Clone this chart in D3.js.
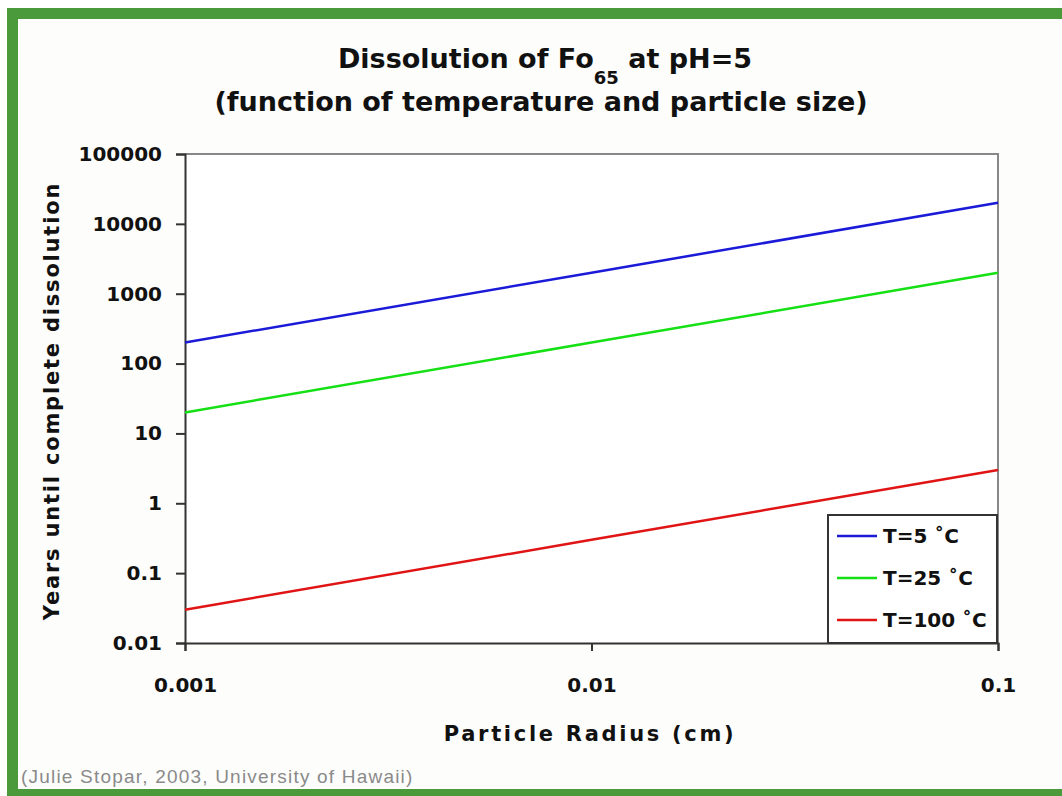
<!DOCTYPE html>
<html>
<head>
<meta charset="utf-8">
<script src="https://cdn.jsdelivr.net/npm/d3@7.9.0/dist/d3.min.js"></script>
<style>
  html, body { margin: 0; padding: 0; background: #fff; }
  svg { display: block; }
  .tick text { font-family: "DejaVu Sans", sans-serif; font-weight: bold; font-size: 20px; fill: #111; }
</style>
</head>
<body>
<svg id="chart" width="1062" height="796"></svg>
<script>
// data
const radii = [0.001, 0.01, 0.1];
const years5 = [200, 2000, 20000];
const years25 = [20, 200, 2000];
const years100 = [0.03, 0.3, 3];
const seriesNames = ['T=5 \u02daC', 'T=25 \u02daC', 'T=100 \u02daC'];
const seriesColors = ['#1a1ad8', '#14e014', '#e01414'];
const yTicks = [0.01, 0.1, 1, 10, 100, 1000, 10000, 100000];
const xTicks = [0.001, 0.01, 0.1];

const series = [years5, years25, years100].map((vals, i) => ({
    name: seriesNames[i],
    color: seriesColors[i],
    points: radii.map((r, j) => ({ x: r, y: vals[j] }))
}));

const svg = d3.select('#chart');

// green frame
svg.append('rect').attr('x', 0).attr('y', 0).attr('width', 1062).attr('height', 796).attr('fill', '#fff');
svg.append('rect').attr('x', 12.5).attr('y', 13.5).attr('width', 1070).attr('height', 781)
   .attr('fill', '#fdfdfb').attr('stroke', '#4a9a3c').attr('stroke-width', 11);

const plotL = 185, plotR = 998, plotT = 154, plotB = 643;
const x = d3.scaleLog().domain([0.001, 0.1]).range([plotL, plotR]);
const y = d3.scaleLog().domain([0.01, 100000]).range([plotB, plotT]);

svg.append('rect').attr('x', plotL).attr('y', plotT)
   .attr('width', plotR - plotL).attr('height', plotB - plotT).attr('fill', '#fff');

// plot frame (top/right lighter)
svg.append('path')
   .attr('d', `M${plotL},${plotT}H${plotR}V${plotB}`)
   .attr('fill', 'none').attr('stroke', '#888').attr('stroke-width', 2);

const fmt = d => d >= 1 ? d3.format('d')(d) : String(d);

const yAxis = svg.append('g')
   .attr('transform', `translate(${plotL},0)`)
   .call(d3.axisLeft(y).tickValues(yTicks).tickFormat(fmt).tickSize(9).tickPadding(14));
yAxis.select('.domain').attr('stroke', '#333').attr('stroke-width', 2);
yAxis.selectAll('.tick line').attr('stroke', '#333').attr('stroke-width', 2);

const xAxis = svg.append('g')
   .attr('transform', `translate(0,${plotB})`)
   .call(d3.axisBottom(x).tickValues(xTicks).tickFormat(fmt).tickSize(8).tickPadding(27));
xAxis.select('.domain').attr('stroke', '#333').attr('stroke-width', 2);
xAxis.selectAll('.tick line').attr('stroke', '#333').attr('stroke-width', 2);

// series
const line = d3.line().x(d => x(d.x)).y(d => y(d.y));
series.forEach(s => {
    svg.append('path')
       .attr('d', line(s.points))
       .attr('fill', 'none')
       .attr('stroke', s.color)
       .attr('stroke-width', 2.5);
});

// legend
const legend = svg.append('g').attr('transform', 'translate(828,515)');
legend.append('rect').attr('width', 169).attr('height', 128)
   .attr('fill', '#fff').attr('stroke', '#333').attr('stroke-width', 2);
series.forEach((s, i) => {
    const row = legend.append('g').attr('transform', `translate(0,${21 + i * 42})`);
    row.append('line').attr('x1', 9).attr('x2', 49).attr('y1', 0).attr('y2', 0)
       .attr('stroke', s.color).attr('stroke-width', 2.5);
    row.append('text').attr('x', 55).attr('y', 7)
       .attr('font-family', 'DejaVu Sans, sans-serif').attr('font-weight', 'bold')
       .attr('font-size', 20).attr('fill', '#111')
       .text(s.name);
});

// titles
const title = svg.append('text')
   .attr('x', 545).attr('y', 68)
   .attr('text-anchor', 'middle')
   .attr('font-family', 'DejaVu Sans, sans-serif').attr('font-weight', 'bold')
   .attr('font-size', 27).attr('fill', '#111');
title.append('tspan').text('Dissolution of Fo');
title.append('tspan').attr('font-size', 18).attr('dy', 16).text('65');
title.append('tspan').attr('dy', -16).text(' at pH=5');

svg.append('text')
   .attr('x', 541).attr('y', 111)
   .attr('text-anchor', 'middle')
   .attr('font-family', 'DejaVu Sans, sans-serif').attr('font-weight', 'bold')
   .attr('font-size', 27).attr('fill', '#111')
   .text('(function of temperature and particle size)');

// axis titles
svg.append('text')
   .attr('x', 590).attr('y', 741)
   .attr('text-anchor', 'middle')
   .attr('font-family', 'DejaVu Sans, sans-serif').attr('font-weight', 'bold')
   .attr('font-size', 21).attr('letter-spacing', 2.7).attr('fill', '#111')
   .text('Particle Radius (cm)');

svg.append('text')
   .attr('transform', 'translate(59,401) rotate(-90)')
   .attr('text-anchor', 'middle')
   .attr('font-family', 'DejaVu Sans, sans-serif').attr('font-weight', 'bold')
   .attr('font-size', 21).attr('letter-spacing', 1.8).attr('fill', '#111')
   .text('Years until complete dissolution');

// credit
svg.append('text')
   .attr('x', 21).attr('y', 783)
   .attr('font-family', 'Liberation Sans, Arial, sans-serif')
   .attr('font-size', 19).attr('letter-spacing', 1.2).attr('fill', '#8a8a8a')
   .text('(Julie Stopar, 2003, University of Hawaii)');
</script>
</body>
</html>
